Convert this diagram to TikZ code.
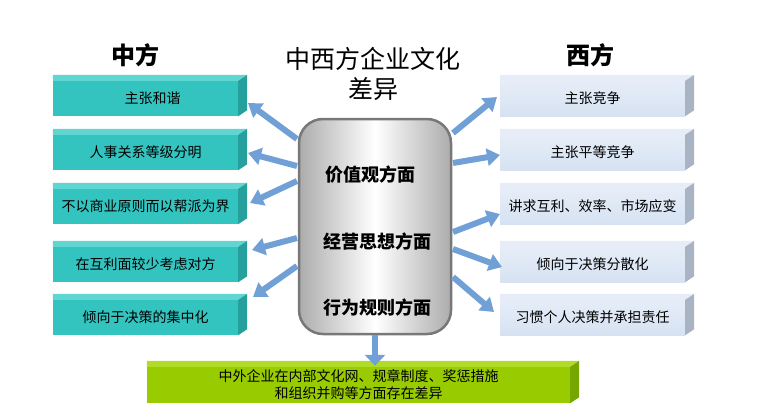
\documentclass[tikz,border=0pt]{standalone}
\usepackage{fontspec}
\setmainfont{Noto Sans CJK SC}
\newfontfamily\cjkb[BoldFont={Noto Sans CJK SC Bold}]{Noto Sans CJK SC}
\usetikzlibrary{arrows.meta,calc}
\definecolor{tealF}{RGB}{52,196,192}
\definecolor{tealT}{RGB}{96,214,210}
\definecolor{tealS}{RGB}{38,160,157}
\definecolor{blueF}{RGB}{214,226,242}
\definecolor{blueT}{RGB}{230,237,248}
\definecolor{blueS}{RGB}{168,180,196}
\definecolor{greenF}{RGB}{153,204,0}
\definecolor{greenT}{RGB}{176,220,40}
\definecolor{greenS}{RGB}{118,166,0}
\definecolor{arrowc}{RGB}{112,160,214}
\definecolor{cylb}{RGB}{120,120,120}
\tikzset{
  boxL/.style={minimum width=185pt,minimum height=35pt,inner sep=0pt,fill=tealF,font=\fontsize{14}{16}\selectfont},
  boxR/.style={minimum width=185pt,minimum height=35pt,inner sep=0pt,top color=blueT,bottom color=blueF,font=\fontsize{14}{16}\selectfont},
  boxG/.style={minimum width=423pt,minimum height=36pt,inner sep=0pt,fill=greenF,font=\fontsize{14}{17}\selectfont,align=center},
  arr/.style={draw=arrowc,line width=6pt,-{Triangle[width=17pt,length=13pt]}},
  heading/.style={font=\fontsize{24}{26}\selectfont\bfseries},
  ctext/.style={font=\fontsize{18}{20}\selectfont\bfseries},
}
\newcommand\topside[4]{% node, top colour, side colour, depth
  \fill[#2] (#1.north west) -- ++(#4,-6) -- ($(#1.north east)+(9,-6)$) -- (#1.north east) -- cycle;
  \fill[#3] (#1.north east) -- ++(9,-6) -- ($(#1.south east)+(9,-6)$) -- (#1.south east) -- cycle;
}
\begin{document}
\begin{tikzpicture}[x=1pt,y=-1pt]
\useasboundingbox (0,0) rectangle (759,416);
% left boxes
\node[boxL] (l1) at (145.5,98.5) {\hspace{14pt}主张和谐};
\node[boxL] (l2) at (145.5,152.5) {人事关系等级分明};
\node[boxL] (l3) at (145.5,206.5) {不以商业原则而以帮派为界};
\node[boxL] (l4) at (145.5,264.5) {在互利面较少考虑对方\hspace{18pt}};
\node[boxL] (l5) at (145.5,317.5) {倾向于决策的集中化};
\foreach \n in {l1,l2,l3,l4,l5} {\topside{\n}{tealT}{tealS}{0}}
% right boxes
\node[boxR] (r1) at (592.5,98.5) {主张竞争};
\node[boxR] (r2) at (592.5,152.5) {主张平等竞争};
\node[boxR] (r3) at (592.5,206.5) {讲求互利、效率、市场应变};
\node[boxR] (r4) at (592.5,264.5) {倾向于决策分散化};
\node[boxR] (r5) at (592.5,317.5) {习惯个人决策并承担责任};
\foreach \n in {r1,r2,r3,r4,r5} {\topside{\n}{blueT}{blueS}{0}}
% green box
\node[boxG] (g) at (358.5,385) {中外企业在内部文化网、规章制度、奖惩措施\\和组织并购等方面存在差异};
\topside{g}{greenT}{greenS}{0}
% headings
\node[heading] (hz) at (135,55) {中方};
\node[heading] (hx) at (590,55) {西方};
\node[font=\fontsize{25}{30}\selectfont,align=center] (title) at (373,74) {中西方企业文化\\差异};
% cylinder
\node[draw=cylb,line width=2.5pt,rounded corners=24pt,minimum width=152pt,minimum height=215pt,
  left color=gray!65,right color=gray!65,middle color=white,inner sep=0pt] (cyl) at (375,226.5) {};
\node[ctext] (c1) at (370,175) {价值观方面};
\node[ctext] (c2) at (377,242) {经营思想方面};
\node[ctext] (c3) at (377,308) {行为规则方面};
% arrow coordinates
\coordinate (a1) at (297,139); \coordinate (b1) at (248,103);
\coordinate (a2) at (297,166); \coordinate (b2) at (248,153);
\coordinate (a3) at (297,181); \coordinate (b3) at (250,203);
\coordinate (a4) at (297,238); \coordinate (b4) at (252,250);
\coordinate (a5) at (297,266); \coordinate (b5) at (253,297);
\coordinate (p1) at (453,133); \coordinate (q1) at (497,97);
\coordinate (p2) at (453,163); \coordinate (q2) at (500,155);
\coordinate (p3) at (453,232); \coordinate (q3) at (500,214);
\coordinate (p4) at (453,249); \coordinate (q4) at (502,267);
\coordinate (p5) at (453,277); \coordinate (q5) at (494,312);
\foreach \i/\n in {1/l1,2/l2,3/l3,4/l4,5/l5} {\draw[arr] (a\i) -- (b\i);}
\foreach \i/\n in {1/r1,2/r2,3/r3,4/r4,5/r5} {\draw[arr] (p\i) -- (q\i);}
\draw[draw=arrowc,line width=6pt,-{Triangle[width=20pt,length=11pt]}] (cyl.south) -- ([yshift=1pt]g.north -| cyl.south);
\end{tikzpicture}
\end{document}
